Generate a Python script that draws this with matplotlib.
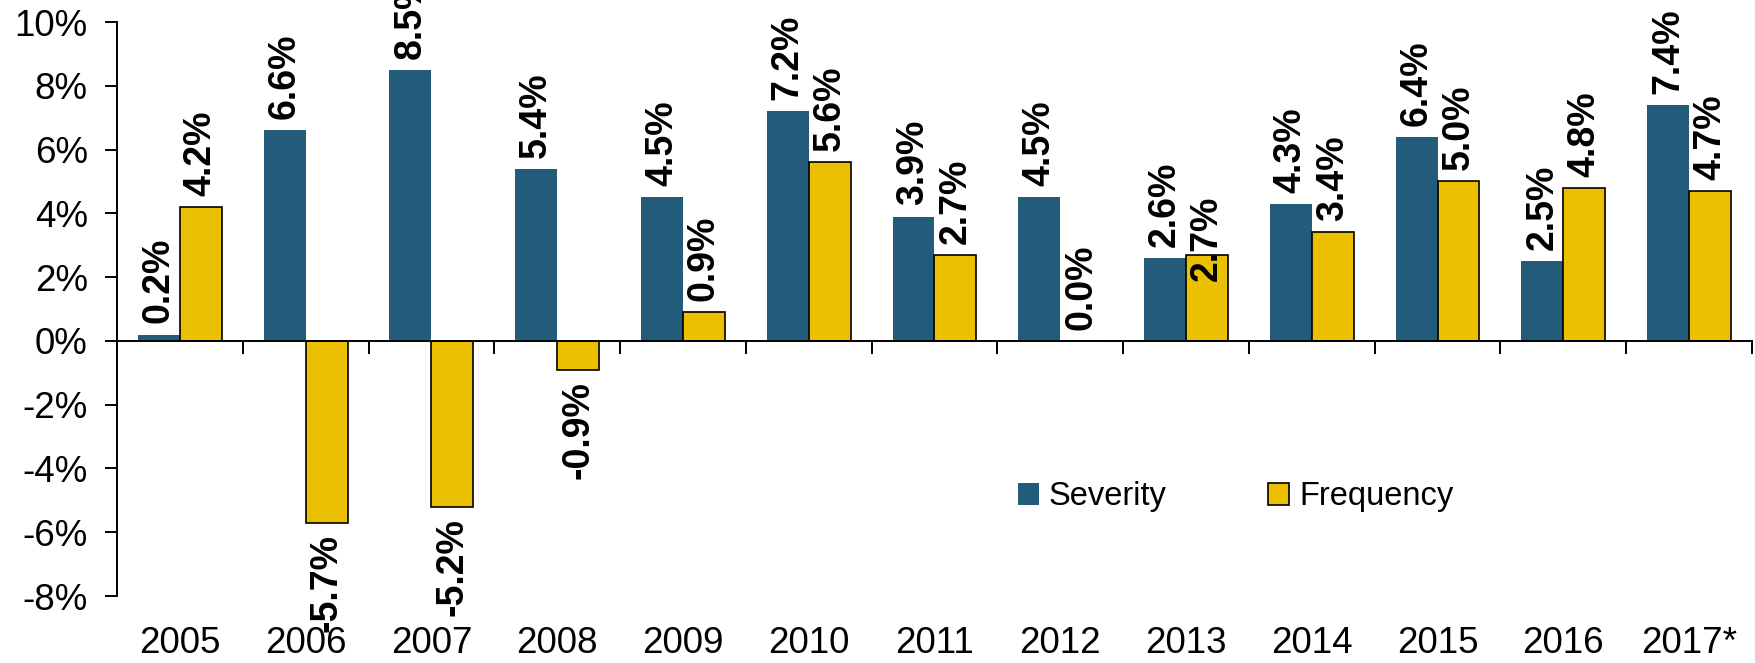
import numpy as np
import matplotlib
matplotlib.use("Agg")
import matplotlib.pyplot as plt

plt.rcParams['font.family'] = ['Liberation Sans', 'DejaVu Sans']

# data
years = ["2005", "2006", "2007", "2008", "2009", "2010", "2011",
         "2012", "2013", "2014", "2015", "2016", "2017*"]
severity = [0.2, 6.6, 8.5, 5.4, 4.5, 7.2, 3.9, 4.5, 2.6, 4.3, 6.4, 2.5, 7.4]
frequency = [4.2, -5.7, -5.2, -0.9, 0.9, 5.6, 2.7, 0.0, 2.7, 3.4, 5.0, 4.8, 4.7]

sev_color = "#235B7A"
freq_color = "#EBC000"

fig = plt.figure(figsize=(17.56, 6.63), dpi=100)
ax = fig.add_axes([117 / 1756, 1 - 596 / 663, (1752 - 117) / 1756, (596 - 22) / 663])

x = np.arange(len(years))
w = 1 / 3
ax.bar(x - w / 2, severity, width=w, color=sev_color, label="Severity")
ax.bar(x + w / 2, frequency, width=w, color=freq_color, edgecolor="black",
       linewidth=1.2, label="Frequency")

# value labels, rotated
def put_labels(xs, vals, nudge=None):
    nudge = nudge or {}
    for i, (xi, v) in enumerate(zip(xs, vals)):
        off = 8 + nudge.get(i, 0)
        if v >= 0:
            ax.annotate(f"{v:.1f}%", (xi, v), xytext=(0, off), textcoords="offset points",
                        rotation=90, ha="center", va="bottom", fontsize=27,
                        fontweight="bold", annotation_clip=False)
        else:
            ax.annotate(f"{v:.1f}%", (xi, v), xytext=(0, -off), textcoords="offset points",
                        rotation=90, ha="center", va="top", fontsize=27,
                        fontweight="bold", annotation_clip=False)

put_labels(x - w / 2, severity)
put_labels(x + w / 2, frequency, nudge={8: -27})

ax.set_xlim(-0.5, len(years) - 0.5)
ax.set_ylim(-8, 10)
ax.set_yticks(np.arange(-8, 11, 2))
ax.set_yticklabels([f"{t}%" for t in range(-8, 11, 2)])
ax.set_xticks(np.arange(-0.5, len(years), 1))
ax.set_xticklabels([])

ax.spines["top"].set_visible(False)
ax.spines["right"].set_visible(False)
ax.spines["bottom"].set_position(("data", 0))
for s in ("left", "bottom"):
    ax.spines[s].set_linewidth(1.4)
ax.tick_params(axis="y", direction="out", length=9, width=1.4, labelsize=26.5, pad=12)
ax.tick_params(axis="x", direction="out", length=9, width=1.4)

for xi, yr in zip(x, years):
    ax.text(xi, -0.082, yr, transform=ax.get_xaxis_transform(), ha="center",
            va="center", fontsize=26.5)

ax.legend(loc="center left", bbox_to_anchor=(1018 / 1756, 1 - 497 / 663),
          bbox_transform=fig.transFigure, ncol=2, frameon=False, fontsize=23.5,
          handlelength=0.65, handleheight=0.65, handletextpad=0.3,
          columnspacing=3.1, borderpad=0, borderaxespad=0)

fig.savefig("out.png", dpi=100)
